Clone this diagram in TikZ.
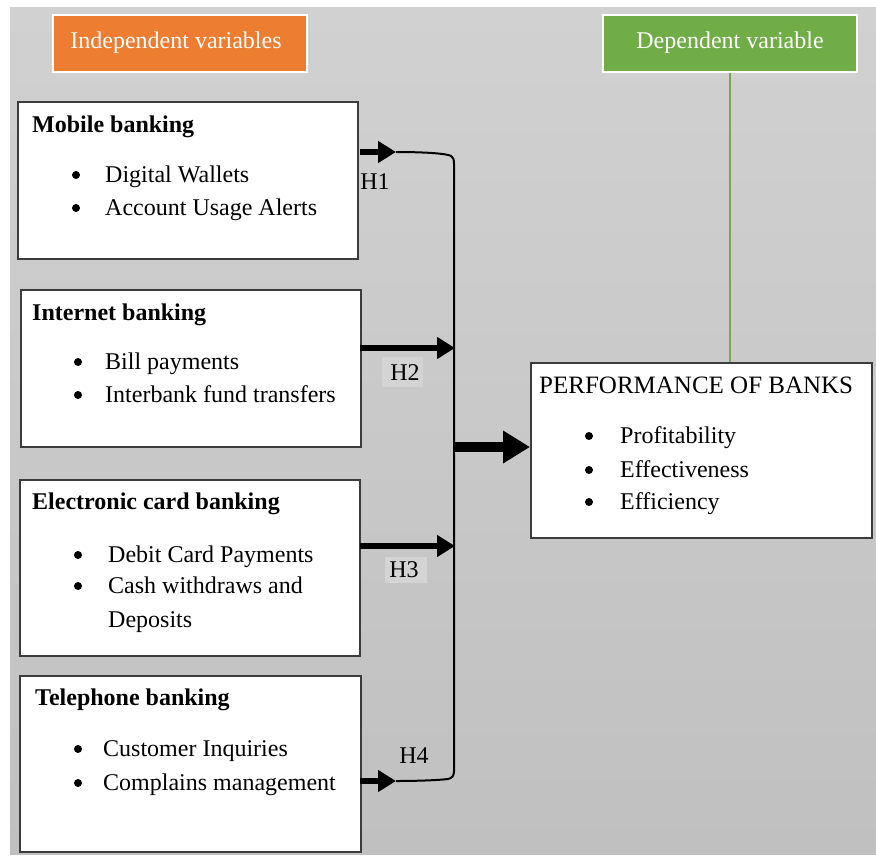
\documentclass[tikz,border=0pt]{standalone}
\usepackage{fontspec}
\setmainfont{Liberation Serif}
\usetikzlibrary{arrows.meta}
\definecolor{bgtop}{RGB}{209,209,209}
\definecolor{bgbot}{RGB}{192,192,192}
\definecolor{boxline}{RGB}{60,60,60}
\definecolor{orangehd}{RGB}{237,125,49}
\definecolor{greenhd}{RGB}{112,173,71}
\definecolor{labelbg}{RGB}{212,212,212}
\begin{document}
\begin{tikzpicture}[x=1pt,y=-1pt,
  txt/.style={anchor=base west,inner sep=0pt,font=\fontsize{24}{28}\selectfont},
  ttl/.style={txt,font=\fontsize{24}{28}\selectfont\bfseries},
  bul/.style={circle,fill=black,inner sep=0pt,minimum size=8pt},
  varbox/.style={draw=boxline,line width=1.5pt,fill=white,anchor=north west,inner sep=0pt},
  hdbox/.style={draw=white,line width=2pt,anchor=north west,inner sep=0pt,minimum width=254pt,minimum height=57pt},
  hdtxt/.style={anchor=base,inner sep=0pt,text=white,font=\fontsize{24}{28}\selectfont},
  harrow/.style={line width=6pt,-{Triangle[length=18pt,width=21pt]}},
  bigarrow/.style={line width=10pt,-{Triangle[length=27pt,width=31pt]}},
  hlabel/.style={anchor=base,inner sep=0pt,font=\fontsize{24}{28}\selectfont},
  hlabelbg/.style={fill=labelbg,draw=none}
]
\useasboundingbox (0,0) rectangle (876,855);
\fill[white] (0,0) rectangle (876,855);
\shade[top color=bgtop,bottom color=bgbot] (10,7) rectangle (876,854);

% headers
\node[hdbox,fill=orangehd] (indep) at (52,14) {};
\node[hdtxt] (indeptxt) at (176,48) {Independent variables};
\node[hdbox,fill=greenhd] (dep) at (602,14) {};
\node[hdtxt] (deptxt) at (730,48) {Dependent variable};

% boxes
\node[varbox,minimum width=340pt,minimum height=157pt] (box1) at (17,101) {};
\node[varbox,minimum width=340pt,minimum height=157pt] (box2) at (20,289) {};
\node[varbox,minimum width=340pt,minimum height=176pt] (box3) at (19,479) {};
\node[varbox,minimum width=341pt,minimum height=176pt] (box4) at (19,675) {};
\node[varbox,minimum width=341pt,minimum height=175pt] (perf) at (530,362) {};

% green connector
\draw[greenhd,line width=2pt] (dep.south -| 730,0) -- (perf.north -| 730,0);

% box1 text
\node[ttl] (t1) at (32,132) {Mobile banking};
\node[bul] (b11) at (76,175) {};
\node[txt] (i11) at (105,182) {Digital Wallets};
\node[bul] (b12) at (76,208) {};
\node[txt] (i12) at (105,215) {Account Usage Alerts};

% box2 text
\node[ttl] (t2) at (32,320) {Internet banking};
\node[bul] (b21) at (78,362) {};
\node[txt] (i21) at (105,369) {Bill payments};
\node[bul] (b22) at (78,395) {};
\node[txt] (i22) at (105,402) {Interbank fund transfers};

% box3 text
\node[ttl] (t3) at (32,509) {Electronic card banking};
\node[bul] (b31) at (78,555) {};
\node[txt] (i31) at (108,562) {Debit Card Payments};
\node[bul] (b32) at (78,586) {};
\node[txt] (i32) at (108,593) {Cash withdraws and};
\node[txt] (i33) at (108,627) {Deposits};

% box4 text
\node[ttl] (t4) at (35,705) {Telephone banking};
\node[bul] (b41) at (78,749) {};
\node[txt] (i41) at (103,756) {Customer Inquiries};
\node[bul] (b42) at (78,783) {};
\node[txt] (i42) at (103,790) {Complains management};

% performance text
\node[txt,font=\fontsize{25}{29}\selectfont] (tp) at (539,393) {PERFORMANCE OF BANKS};
\node[bul] (bp1) at (589,436) {};
\node[txt] (ip1) at (620,443) {Profitability};
\node[bul] (bp2) at (589,470) {};
\node[txt] (ip2) at (620,477) {Effectiveness};
\node[bul] (bp3) at (589,502) {};
\node[txt] (ip3) at (620,509) {Efficiency};

% connector coordinates
\coordinate (h1s) at (360,152);
\coordinate (h1e) at (396,152);
\coordinate (h2s) at (360,348);
\coordinate (h2e) at (455,348);
\coordinate (h3s) at (360,546);
\coordinate (h3e) at (455,546);
\coordinate (h4s) at (360,781);
\coordinate (h4e) at (396,781);
\coordinate (jn) at (454,447);

% trunk line
\draw[line width=2pt,line join=round]
  (h1e) .. controls (430,152) and (448,154) .. (451,156)
  .. controls (453,157) and (454,159) .. (454,164)
  -- (454,771)
  .. controls (454,776) and (452,778) .. (448,779)
  .. controls (440,780) and (420,781) .. (h4e);

% arrows
\draw[harrow] (h1s) -- (h1e);
\draw[harrow] (h2s) -- (h2e);
\draw[harrow] (h3s) -- (h3e);
\draw[harrow] (h4s) -- (h4e);
\draw[bigarrow] (jn) -- (perf.west |- jn);

% labels
\node[hlabel] (H1) at (375,189) {H1};
\fill[labelbg] (382,357) rectangle (423,387);
\node[hlabel] (H2) at (405,380) {H2};
\fill[labelbg] (385,557) rectangle (427,583);
\node[hlabel] (H3) at (404,577) {H3};
\node[hlabel] (H4) at (414,763) {H4};
\end{tikzpicture}
\end{document}
